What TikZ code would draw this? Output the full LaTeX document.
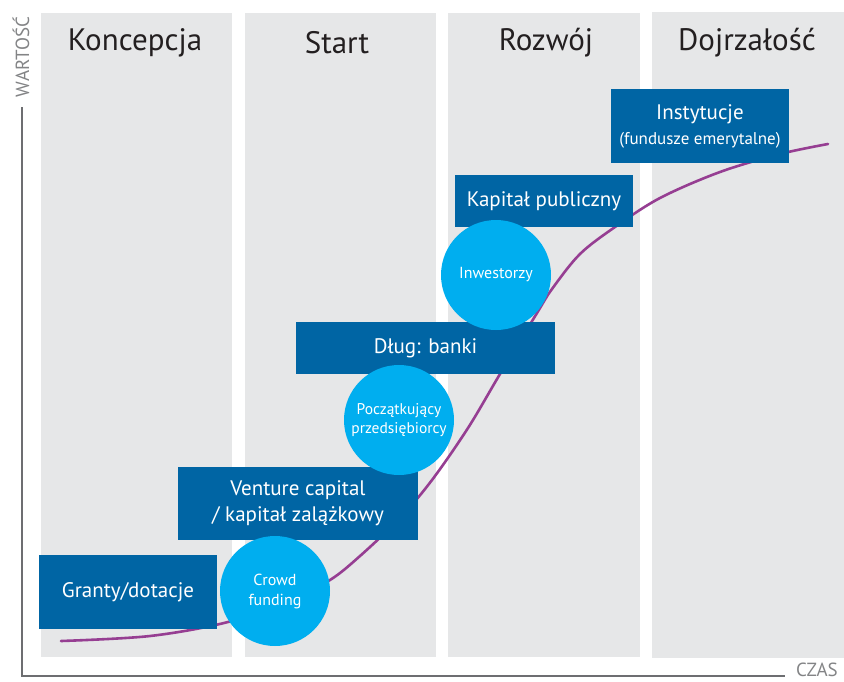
\documentclass[tikz,border=0pt]{standalone}
\usepackage{fontspec}
\setmainfont{PT Sans}
\definecolor{colgray}{HTML}{E6E7E8}
\definecolor{boxblue}{HTML}{0065A4}
\definecolor{circblue}{HTML}{00AEEF}
\definecolor{curvepurple}{HTML}{963E92}
\definecolor{axisgray}{HTML}{6D6E71}
\definecolor{headtext}{HTML}{231F20}
\tikzset{
  stagecol/.style={fill=colgray, draw=none},
  stagehead/.style={text=headtext, font=\fontsize{31}{36}\selectfont},
  fundbox/.style={fill=boxblue, text=white, inner sep=0pt, align=center,
    font=\fontsize{21}{27}\selectfont},
  fundcirc/.style={circle, fill=circblue, text=white, inner sep=0pt,
    minimum size=110pt, align=center, font=\fontsize{16}{20}\selectfont},
  axisline/.style={draw=axisgray, line width=2pt},
  axislabel/.style={text=axisgray!85, font=\fontsize{19}{22}\selectfont},
}
\begin{document}
\begin{tikzpicture}[x=1pt,y=-1pt]
\useasboundingbox (0,0) rectangle (844,681);

% stage columns
\fill[stagecol] (41,13) rectangle (232,657);
\fill[stagecol] (245,13) rectangle (436,657);
\fill[stagecol] (448,13) rectangle (640,657);
\fill[stagecol] (652,12) rectangle (844,658);

% stage headings
\node[stagehead] (h1) at (135,43) {Koncepcja};
\node[stagehead] (h2) at (337,43) {Start};
\node[stagehead] (h3) at (546,43) {Rozwój};
\node[stagehead] (h4) at (747,43) {Dojrzałość};

% axes
\coordinate (ytop) at (22,107);
\coordinate (origin) at (22,676);
\coordinate (xend) at (785,676);
\draw[axisline] (ytop) -- (origin) -- (xend);
\node[axislabel, rotate=90] (ylab) at (21,57) {WARTOŚĆ};
\node[axislabel] (xlab) at (817,670) {CZAS};

% value curve
\draw[curvepurple, line width=2.6pt, line cap=round]
  plot[smooth, tension=0.55] coordinates {
    (61,641) (150,636) (228,622) (290,600) (330,580) (360,556)
    (400,518) (432,480) (468,428) (500,374) (537,313) (552,289)
    (580,254) (615,227) (660,198) (720,172) (780,154) (828,144)};

% funding sources
\node[fundbox, minimum width=178pt, minimum height=74pt] (granty) at (128,592) {Granty/dotacje};
\node[fundbox, minimum width=240pt, minimum height=73pt] (vc) at (298,503)
  {Venture capital\\[-1pt] / kapitał zalążkowy};
\node[fundbox, minimum width=259pt, minimum height=52pt] (dlug) at (425.5,348) {Dług: banki};
\node[fundbox, minimum width=178pt, minimum height=52pt] (publ) at (544,201) {Kapitał publiczny};
\node[fundbox, minimum width=178pt, minimum height=74pt] (inst) at (700,126)
  {Instytucje\\[-2pt]{\fontsize{17}{20}\selectfont (fundusze emerytalne)}};

\node[fundcirc] (crowd) at (275,591) {Crowd\\funding};
\node[fundcirc, font=\fontsize{15.5}{19.5}\selectfont] (pocz) at (399,420) {Początkujący\\przedsiębiorcy};
\node[fundcirc] (inw) at (496,275) {Inwestorzy};
\end{tikzpicture}
\end{document}
